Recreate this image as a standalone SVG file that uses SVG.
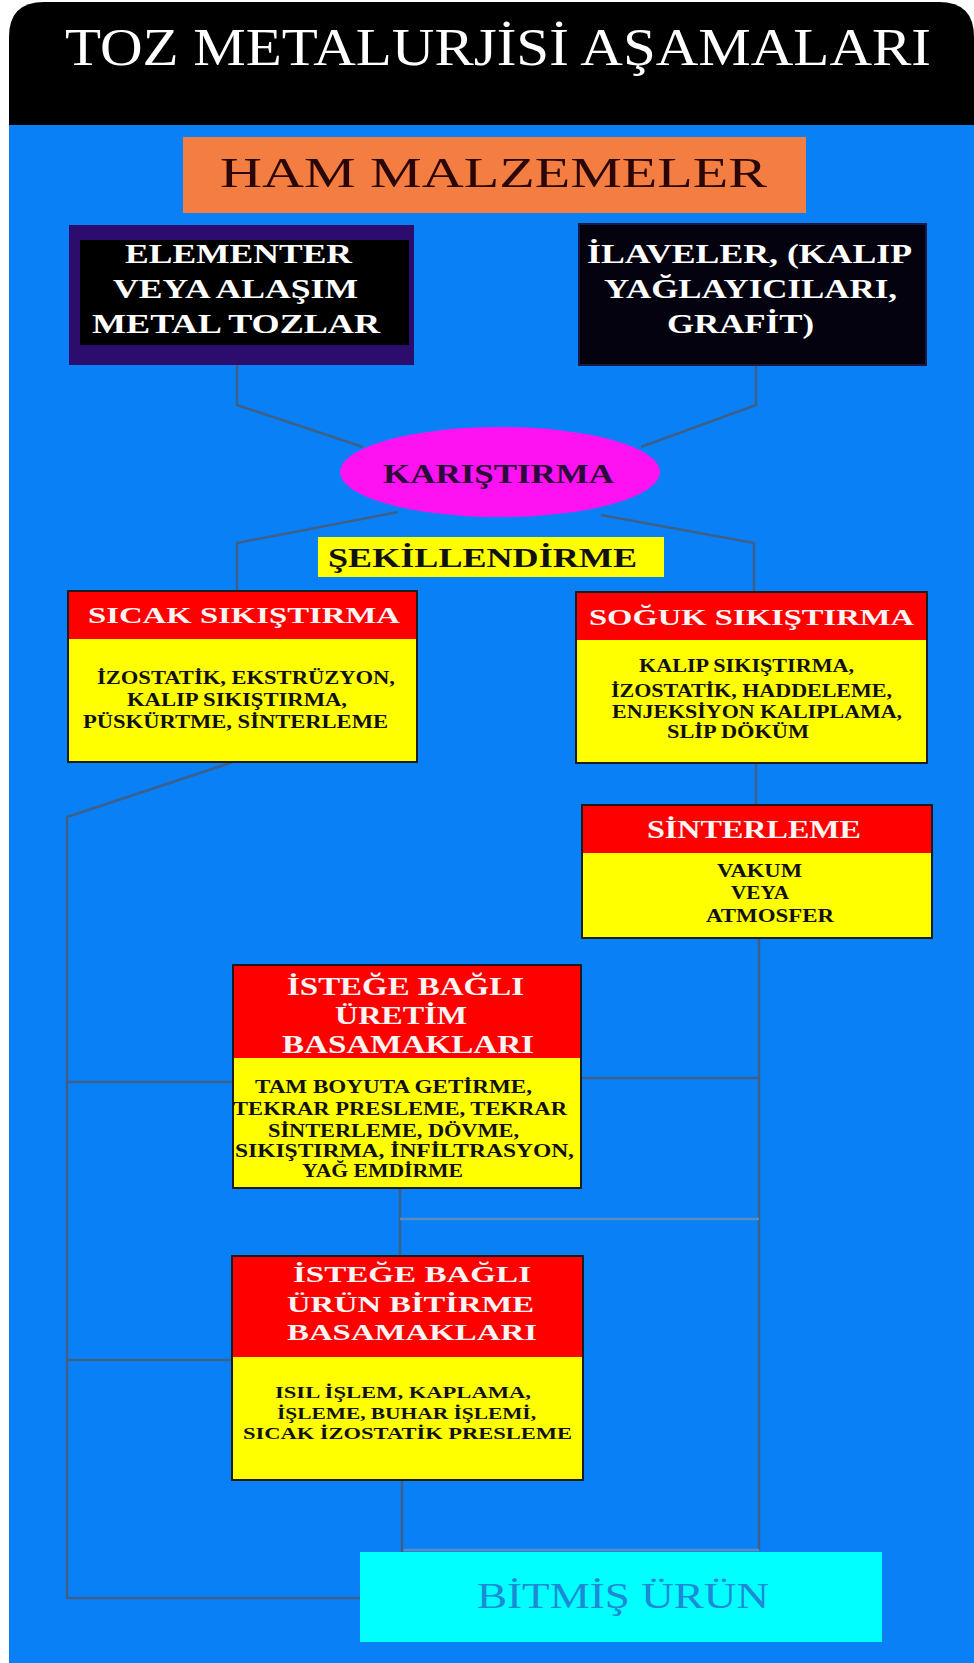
<svg xmlns="http://www.w3.org/2000/svg" width="974" height="1663" viewBox="0 0 974 1663">
<style>
text{font-family:"Liberation Serif","Times New Roman",serif;}
.ttl{fill:#ffffff;font-size:52px;}
.ham{fill:#2a0606;font-size:42px;}
.blk{fill:#ffffff;font-size:28px;font-weight:bold;}
.mix{fill:#2b0a3a;font-size:27px;font-weight:bold;}
.shp{fill:#111111;font-size:28px;font-weight:bold;}
.hd{fill:#fff4f4;font-weight:bold;}
.bd{fill:#111111;font-weight:bold;}
.fin{fill:#1d8ad6;font-size:35px;}
.red{fill:#ff0000;}
.yel{fill:#ffff00;}
.box{fill:none;stroke:#1c1c1c;stroke-width:2;}
.con{fill:none;stroke:#3d5f88;stroke-width:2.5;stroke-linejoin:round;}
.conl{fill:none;stroke:#5a8cc0;stroke-width:2.5;}
</style>
<rect x="0" y="0" width="974" height="1663" fill="#ffffff"/>
<rect x="9" y="100" width="965" height="1563" fill="#0a80f7"/>
<g id="header">
<path d="M9,125 V37 Q9,2 44,2 H939 Q974,2 974,37 V125 Z" fill="#000000"/>
<text class="ttl" x="65" y="65" textLength="866" lengthAdjust="spacingAndGlyphs">TOZ METALURJİSİ AŞAMALARI</text>
</g>
<g id="connectors">
<path class="con" d="M237,365 V405 L363,447"/>
<path class="con" d="M756,365 V405 L641,447"/>
<path class="con" d="M398,512 L237,543 V591"/>
<path class="con" d="M601,515 L754,543 V592"/>
<path class="con" d="M233,762 L67,817 V1598 H360"/>
<path class="con" d="M756,763 V805"/>
<path class="con" d="M759,938 V1550"/>
<path class="conl" d="M402,1550 H759"/>
<path class="con" d="M68,1082 H233"/>
<path class="con" d="M581,1078 H759"/>
<path class="con" d="M400,1188 V1256"/>
<path class="conl" d="M400,1219 H759"/>
<path class="con" d="M68,1360 H232"/>
<path class="con" d="M402,1480 V1552"/>
</g>
<g id="ham">
<rect x="183" y="137" width="623" height="76" fill="#f47e41"/>
<text class="ham" x="220" y="187" textLength="547" lengthAdjust="spacingAndGlyphs">HAM MALZEMELER</text>
</g>
<g id="elementer">
<rect x="69" y="225" width="345" height="140" fill="#2c0c6c"/>
<rect x="80" y="240" width="329" height="105" fill="#000000"/>
<text class="blk" x="125" y="263" textLength="227" lengthAdjust="spacingAndGlyphs">ELEMENTER</text>
<text class="blk" x="113" y="298" textLength="245" lengthAdjust="spacingAndGlyphs">VEYA ALAŞIM</text>
<text class="blk" x="92" y="333" textLength="288" lengthAdjust="spacingAndGlyphs">METAL TOZLAR</text>
</g>
<g id="ilaveler">
<rect x="579" y="224" width="347" height="141" fill="#04020e" stroke="#1a1845" stroke-width="2"/>
<text class="blk" x="587" y="263" textLength="325" lengthAdjust="spacingAndGlyphs">İLAVELER, (KALIP</text>
<text class="blk" x="604" y="298" textLength="293" lengthAdjust="spacingAndGlyphs">YAĞLAYICILARI,</text>
<text class="blk" x="667" y="333" textLength="147" lengthAdjust="spacingAndGlyphs">GRAFİT)</text>
</g>
<g id="karistirma">
<ellipse cx="500" cy="472" rx="160" ry="45" fill="#ff12f2"/>
<text class="mix" x="383" y="483" textLength="231" lengthAdjust="spacingAndGlyphs">KARIŞTIRMA</text>
</g>
<g id="sekillendirme">
<rect x="318" y="537" width="346" height="40" fill="#ffff00"/>
<text class="shp" x="328" y="567" textLength="309" lengthAdjust="spacingAndGlyphs">ŞEKİLLENDİRME</text>
</g>
<g id="sicak">
<rect class="yel" x="68" y="591" width="349" height="171"/>
<rect class="red" x="68" y="591" width="349" height="48"/>
<rect class="box" x="68" y="591" width="349" height="171"/>
<text class="hd" font-size="24" x="88" y="623" textLength="312" lengthAdjust="spacingAndGlyphs">SICAK SIKIŞTIRMA</text>
<text class="bd" font-size="18" x="97" y="684" textLength="298" lengthAdjust="spacingAndGlyphs">İZOSTATİK, EKSTRÜZYON,</text>
<text class="bd" font-size="18" x="127" y="706" textLength="220" lengthAdjust="spacingAndGlyphs">KALIP SIKIŞTIRMA,</text>
<text class="bd" font-size="18" x="83" y="728" textLength="305" lengthAdjust="spacingAndGlyphs">PÜSKÜRTME, SİNTERLEME</text>
</g>
<g id="soguk">
<rect class="yel" x="576" y="592" width="351" height="171"/>
<rect class="red" x="576" y="592" width="351" height="48"/>
<rect class="box" x="576" y="592" width="351" height="171"/>
<text class="hd" font-size="24" x="589" y="625" textLength="325" lengthAdjust="spacingAndGlyphs">SOĞUK SIKIŞTIRMA</text>
<text class="bd" font-size="18" x="639" y="672" textLength="215" lengthAdjust="spacingAndGlyphs">KALIP SIKIŞTIRMA,</text>
<text class="bd" font-size="18" x="611" y="697" textLength="281" lengthAdjust="spacingAndGlyphs">İZOSTATİK, HADDELEME,</text>
<text class="bd" font-size="18" x="612" y="718" textLength="290" lengthAdjust="spacingAndGlyphs">ENJEKSİYON KALIPLAMA,</text>
<text class="bd" font-size="18" x="667" y="738" textLength="142" lengthAdjust="spacingAndGlyphs">SLİP DÖKÜM</text>
</g>
<g id="sinterleme">
<rect class="yel" x="582" y="805" width="350" height="133"/>
<rect class="red" x="582" y="805" width="350" height="48"/>
<rect class="box" x="582" y="805" width="350" height="133"/>
<text class="hd" font-size="25" x="647" y="838" textLength="214" lengthAdjust="spacingAndGlyphs">SİNTERLEME</text>
<text class="bd" font-size="18" x="717" y="877" textLength="85" lengthAdjust="spacingAndGlyphs">VAKUM</text>
<text class="bd" font-size="18" x="731" y="899" textLength="58" lengthAdjust="spacingAndGlyphs">VEYA</text>
<text class="bd" font-size="18" x="706" y="922" textLength="128" lengthAdjust="spacingAndGlyphs">ATMOSFER</text>
</g>
<g id="uretim">
<rect class="yel" x="233" y="965" width="348" height="223"/>
<rect class="red" x="233" y="965" width="348" height="93"/>
<rect class="box" x="233" y="965" width="348" height="223"/>
<text class="hd" font-size="25" x="287" y="995" textLength="237" lengthAdjust="spacingAndGlyphs">İSTEĞE BAĞLI</text>
<text class="hd" font-size="25" x="335" y="1024" textLength="132" lengthAdjust="spacingAndGlyphs">ÜRETİM</text>
<text class="hd" font-size="25" x="282" y="1053" textLength="252" lengthAdjust="spacingAndGlyphs">BASAMAKLARI</text>
<text class="bd" font-size="18" x="255" y="1093" textLength="277" lengthAdjust="spacingAndGlyphs">TAM BOYUTA GETİRME,</text>
<text class="bd" font-size="18" x="233" y="1115" textLength="334" lengthAdjust="spacingAndGlyphs">TEKRAR PRESLEME, TEKRAR</text>
<text class="bd" font-size="18" x="268" y="1137" textLength="251" lengthAdjust="spacingAndGlyphs">SİNTERLEME, DÖVME,</text>
<text class="bd" font-size="18" x="235" y="1157" textLength="339" lengthAdjust="spacingAndGlyphs">SIKIŞTIRMA,  İNFİLTRASYON,</text>
<text class="bd" font-size="18" x="302" y="1177" textLength="161" lengthAdjust="spacingAndGlyphs">YAĞ EMDİRME</text>
</g>
<g id="urun">
<rect class="yel" x="232" y="1256" width="351" height="224"/>
<rect class="red" x="232" y="1256" width="351" height="101"/>
<rect class="box" x="232" y="1256" width="351" height="224"/>
<text class="hd" font-size="24" x="293" y="1282" textLength="238" lengthAdjust="spacingAndGlyphs">İSTEĞE BAĞLI</text>
<text class="hd" font-size="24" x="287" y="1312" textLength="247" lengthAdjust="spacingAndGlyphs">ÜRÜN BİTİRME</text>
<text class="hd" font-size="24" x="287" y="1340" textLength="250" lengthAdjust="spacingAndGlyphs">BASAMAKLARI</text>
<text class="bd" font-size="17" x="275" y="1398" textLength="256" lengthAdjust="spacingAndGlyphs">ISIL İŞLEM, KAPLAMA,</text>
<text class="bd" font-size="17" x="277" y="1419" textLength="259" lengthAdjust="spacingAndGlyphs">İŞLEME, BUHAR İŞLEMİ,</text>
<text class="bd" font-size="17" x="243" y="1439" textLength="329" lengthAdjust="spacingAndGlyphs">SICAK İZOSTATİK PRESLEME</text>
</g>
<g id="bitmis">
<rect x="360" y="1552" width="522" height="90" fill="#00ffff"/>
<text class="fin" x="477" y="1608" textLength="292" lengthAdjust="spacingAndGlyphs">BİTMİŞ ÜRÜN</text>
</g>
</svg>
